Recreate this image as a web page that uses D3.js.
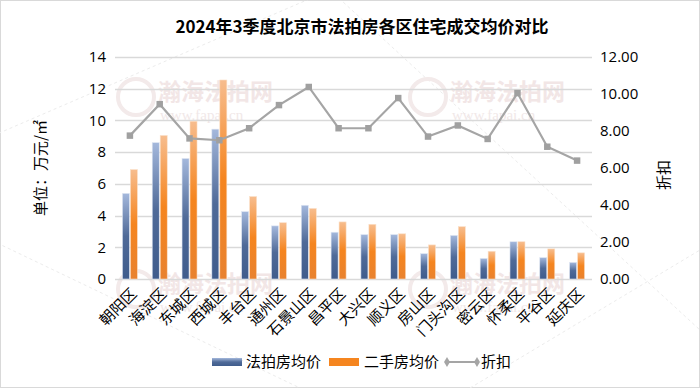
<!DOCTYPE html>
<html>
<head>
<meta charset="utf-8">
<script src="https://cdn.jsdelivr.net/npm/d3@7"></script>
<style>
  body { margin: 0; background: #fff; }
  svg { display: block; font-family: "Noto Sans CJK SC", "Noto Sans", sans-serif; }
</style>
</head>
<body>
<svg id="chart" width="700" height="388"></svg>
<script>
"use strict";

// chart data
const districts = ["朝阳区", "海淀区", "东城区", "西城区", "丰台区", "通州区", "石景山区", "昌平区",
                   "大兴区", "顺义区", "房山区", "门头沟区", "密云区", "怀柔区", "平谷区", "延庆区"];
const auctionPrice = [5.4, 8.6, 7.6, 9.45, 4.25, 3.35, 4.65, 2.95, 2.8, 2.8, 1.6, 2.75, 1.3, 2.35, 1.35, 1.05];
const resalePrice  = [6.9, 9.05, 9.95, 12.55, 5.2, 3.55, 4.45, 3.6, 3.45, 2.85, 2.15, 3.3, 1.75, 2.35, 1.9, 1.65];
const discount     = [7.75, 9.45, 7.6, 7.5, 8.15, 9.4, 10.38, 8.15, 8.15, 9.78, 7.7, 8.3, 7.57, 10.05, 7.15, 6.4];
const leftTicks  = [0, 2, 4, 6, 8, 10, 12, 14];
const rightTicks = [0, 2, 4, 6, 8, 10, 12];
const seriesNames = ["法拍房均价", "二手房均价", "折扣"];

const svg = d3.select("#chart");
const W = 700, H = 388;
const margin = {top: 57, right: 108, bottom: 109, left: 115};
const plotW = W - margin.left - margin.right,
      plotH = H - margin.top - margin.bottom;

// outer border
svg.append("rect").attr("x", 0.5).attr("y", 0.5).attr("width", W - 1).attr("height", H - 1)
  .attr("fill", "#fff").attr("stroke", "#d9d9d9");

// gradients for bars
const defs = svg.append("defs");
const gBlue = defs.append("linearGradient").attr("id", "gradBlue").attr("x1", 0).attr("y1", 0).attr("x2", 0).attr("y2", 1);
gBlue.append("stop").attr("offset", "0%").attr("stop-color", "#a4b8dc");
gBlue.append("stop").attr("offset", "50%").attr("stop-color", "#4f6a98");
gBlue.append("stop").attr("offset", "100%").attr("stop-color", "#3f5c8c");
const gOrange = defs.append("linearGradient").attr("id", "gradOrange").attr("x1", 0).attr("y1", 0).attr("x2", 0).attr("y2", 1);
gOrange.append("stop").attr("offset", "0%").attr("stop-color", "#f7bd8e");
gOrange.append("stop").attr("offset", "50%").attr("stop-color", "#f5851f");
gOrange.append("stop").attr("offset", "100%").attr("stop-color", "#e8822f");

// faint watermark
const wm = svg.append("g").attr("pointer-events", "none");
[[-40, 150, 330, -10], [-30, 230, 300, 388], [330, -10, 700, 330], [470, 388, 700, 250]].forEach(l => {
  wm.append("line").attr("x1", l[0]).attr("y1", l[1]).attr("x2", l[2]).attr("y2", l[3])
    .attr("stroke", "#ececec").attr("stroke-dasharray", "3,3");
});
[[158, 100], [450, 100], [158, 292], [450, 292]].forEach(p => {
  wm.append("circle").attr("cx", p[0] - 22).attr("cy", p[1] - 3).attr("r", 18)
    .attr("fill", "none").attr("stroke", "#f3eaea").attr("stroke-width", 4);
  wm.append("text").attr("x", p[0]).attr("y", p[1]).text("瀚海法拍网")
    .attr("font-family", "'Noto Sans CJK SC'").attr("font-weight", "bold").attr("font-size", 23)
    .attr("fill", "#f2e6e6");
  wm.append("text").attr("x", p[0] + 2).attr("y", p[1] + 20).text("www.fapai.cn")
    .attr("font-family", "'Liberation Serif'").attr("font-size", 15).attr("fill", "#f1e8e8");
});

const g = svg.append("g").attr("transform", `translate(${margin.left},${margin.top})`);

const x = d3.scaleBand().domain(districts).range([0, plotW]).paddingInner(0).paddingOuter(0);
const x1 = d3.scaleBand().domain([0, 1]).range([x.bandwidth() / 2 - 7.5, x.bandwidth() / 2 + 7.5]).paddingInner(0.12);
const yL = d3.scaleLinear().domain([0, 14]).range([plotH, 0]);
const yR = d3.scaleLinear().domain([0, 12]).range([plotH, 0]);

// gridlines
g.append("g").selectAll("line").data(leftTicks).enter().append("line")
  .attr("x1", 0).attr("x2", plotW)
  .attr("y1", d => Math.round(yL(d)) + 0.5).attr("y2", d => Math.round(yL(d)) + 0.5)
  .attr("stroke", "#d9d9d9").attr("stroke-width", 1.3);

// left axis
const axL = g.append("g").call(d3.axisLeft(yL).tickValues(leftTicks).tickSize(0).tickPadding(9));
axL.select(".domain").remove();
axL.selectAll("text").attr("font-size", 15).attr("fill", "#000").attr("font-family", "'Open Sans', 'Noto Sans'");

// right axis
const axR = g.append("g").attr("transform", `translate(${plotW},0)`)
  .call(d3.axisRight(yR).tickValues(rightTicks).tickSize(0).tickPadding(8).tickFormat(d3.format(".2f")));
axR.select(".domain").remove();
axR.selectAll("text").attr("font-size", 15).attr("fill", "#000").attr("font-family", "'Open Sans', 'Noto Sans'");

// bars
const groups = g.selectAll(".grp").data(districts).enter().append("g")
  .attr("class", "grp").attr("transform", d => `translate(${x(d)},0)`);
groups.append("rect")
  .attr("x", x1(0)).attr("width", x1.bandwidth())
  .attr("y", (d, i) => yL(auctionPrice[i])).attr("height", (d, i) => plotH - yL(auctionPrice[i]))
  .attr("fill", "url(#gradBlue)").attr("stroke", "#dfe6f2").attr("stroke-width", 0.6);
groups.append("rect")
  .attr("x", x1(1)).attr("width", x1.bandwidth())
  .attr("y", (d, i) => yL(resalePrice[i])).attr("height", (d, i) => plotH - yL(resalePrice[i]))
  .attr("fill", "url(#gradOrange)").attr("stroke", "#fbe0c8").attr("stroke-width", 0.6);

// discount line
const line = d3.line().x((d, i) => x(districts[i]) + x.bandwidth() / 2).y(d => yR(d));
g.append("path").datum(discount).attr("d", line)
  .attr("fill", "none").attr("stroke", "#a5a5a5").attr("stroke-width", 2.2);
const marker = d3.symbol().type(d3.symbolSquare).size(42);
g.selectAll(".mk").data(discount).enter().append("path")
  .attr("class", "mk").attr("d", marker)
  .attr("transform", (d, i) => `translate(${x(districts[i]) + x.bandwidth() / 2},${yR(d)})`)
  .attr("fill", "#a0a0a0");

// x axis labels (rotated)
g.selectAll(".xl").data(districts).enter().append("text")
  .attr("class", "xl")
  .attr("transform", d => `translate(${x(d) + x.bandwidth() / 2 + 4},${plotH + 12}) rotate(-45)`)
  .attr("text-anchor", "end").attr("dy", "0.35em")
  .attr("font-size", 15).attr("fill", "#000").text(d => d);

// title
svg.append("text").attr("x", 362).attr("y", 33).attr("text-anchor", "middle")
  .attr("font-size", 17).attr("font-weight", "bold").attr("fill", "#000")
  .text("2024年3季度北京市法拍房各区住宅成交均价对比");

// axis titles
svg.append("text").attr("transform", `translate(46,168) rotate(-90)`).attr("text-anchor", "middle")
  .attr("font-size", 15).attr("fill", "#000").text("单位：万元/㎡");
svg.append("text").attr("transform", `translate(669,175) rotate(-90)`).attr("text-anchor", "middle")
  .attr("font-size", 15).attr("fill", "#000").text("折扣");

// legend
const leg = svg.append("g").attr("transform", "translate(212,362)");
leg.append("rect").attr("x", 0).attr("y", -4).attr("width", 30).attr("height", 8).attr("fill", "url(#gradBlue)");
leg.append("text").attr("x", 34).attr("y", 0).attr("dy", "0.35em").attr("font-size", 15).text(seriesNames[0]);
leg.append("rect").attr("x", 117).attr("y", -4).attr("width", 30).attr("height", 8).attr("fill", "#f5851f");
leg.append("text").attr("x", 152).attr("y", 0).attr("dy", "0.35em").attr("font-size", 15).text(seriesNames[1]);
leg.append("line").attr("x1", 235).attr("x2", 265).attr("y1", 0).attr("y2", 0).attr("stroke", "#a5a5a5").attr("stroke-width", 2);
[235, 265].forEach(px => leg.append("path").attr("d", d3.symbol().type(d3.symbolDiamond).size(30))
  .attr("transform", `translate(${px},0)`).attr("fill", "#a5a5a5"));
leg.append("text").attr("x", 269).attr("y", 0).attr("dy", "0.35em").attr("font-size", 15).text(seriesNames[2]);
</script>
</body>
</html>
